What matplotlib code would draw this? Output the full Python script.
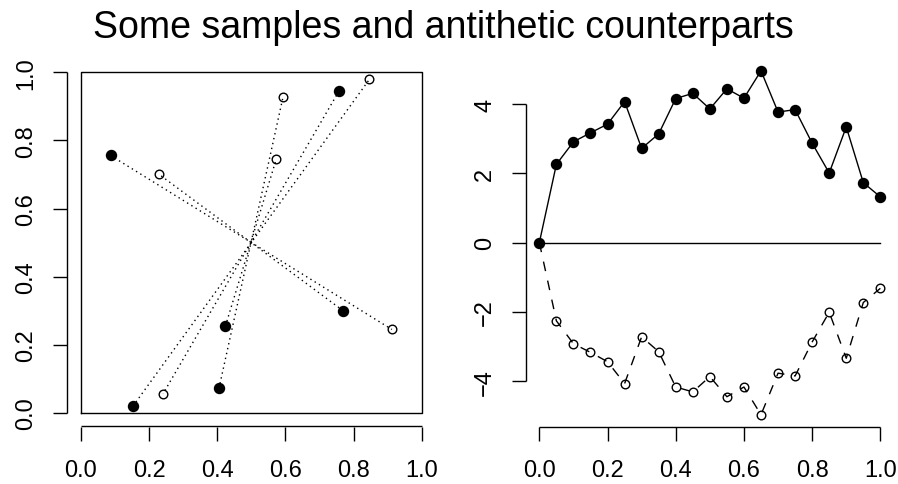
import matplotlib
matplotlib.use("Agg")
import matplotlib.pyplot as plt

plt.rcParams['font.family'] = ['Liberation Sans', 'DejaVu Sans']

# Left panel: samples (filled) and antithetic counterparts (open)
u_x = [0.087, 0.153, 0.405, 0.424, 0.769, 0.757]
u_y = [0.756, 0.020, 0.072, 0.255, 0.300, 0.945]
a_x = [0.912, 0.846, 0.593, 0.573, 0.230, 0.241]
a_y = [0.245, 0.979, 0.928, 0.745, 0.700, 0.056]

# Right panel: random walk and its antithetic counterpart
t = [0.00, 0.05, 0.10, 0.15, 0.20, 0.25, 0.30, 0.35, 0.40, 0.45, 0.50,
     0.55, 0.60, 0.65, 0.70, 0.75, 0.80, 0.85, 0.90, 0.95, 1.00]
walk = [0.00, 2.26, 2.91, 3.17, 3.42, 4.07, 2.72, 3.14, 4.16, 4.31, 3.86,
        4.44, 4.17, 4.96, 3.77, 3.84, 2.87, 2.01, 3.34, 1.73, 1.32]
anti = [0.00, -2.26, -2.92, -3.17, -3.44, -4.07, -2.72, -3.15, -4.17, -4.31, -3.87,
        -4.45, -4.17, -4.97, -3.77, -3.85, -2.87, -2.01, -3.34, -1.73, -1.32]

xticks = [0.0, 0.2, 0.4, 0.6, 0.8, 1.0]
xticklabels = ["0.0", "0.2", "0.4", "0.6", "0.8", "1.0"]
yticks_r = [-4, -2, 0, 2, 4]
yticklabels_r = ["\u22124", "\u22122", "0", "2", "4"]

W, H = 898, 485
fig = plt.figure(figsize=(W / 100, H / 100), dpi=100)

def px_axes(x0, x1, ytop, ybot):
    return fig.add_axes([x0 / W, 1 - ybot / H, (x1 - x0) / W, (ybot - ytop) / H])

axL = px_axes(67.2, 435.5, 59.7, 427.5)
axR = px_axes(525.7, 894.0, 59.7, 427.5)

TICKLEN = 10.3
FS = 17
lw = 1.0

def style_axes(ax, xt, xtl, yt, ytl, xlim, ylim):
    ax.set_xlim(*xlim)
    ax.set_ylim(*ylim)
    for s in ax.spines.values():
        s.set_visible(False)
    ax.set_xticks(xt)
    ax.set_xticklabels(xtl)
    ax.set_yticks(yt)
    ax.set_yticklabels(ytl, rotation=90, va='center')
    ax.tick_params(axis='x', length=TICKLEN, width=lw, pad=13, labelsize=FS, direction='out')
    ax.tick_params(axis='y', length=TICKLEN, width=lw, pad=11, labelsize=FS, direction='out')
    # axis lines from first to last tick (R style)
    ax.plot([xt[0], xt[-1]], [ylim[0], ylim[0]], color='black', lw=lw,
            clip_on=False, solid_capstyle='butt')
    ax.plot([xlim[0], xlim[0]], [yt[0], yt[-1]], color='black', lw=lw,
            clip_on=False, solid_capstyle='butt')

# Left panel
style_axes(axL, xticks, xticklabels, xticks, xticklabels, (-0.04, 1.04), (-0.04, 1.04))
axL.plot([0, 1, 1, 0, 0], [0, 0, 1, 1, 0], color='black', lw=lw)
for x1, y1, x2, y2 in zip(u_x, u_y, a_x, a_y):
    axL.plot([x1, x2], [y1, y2], color='black', lw=lw, dashes=(1, 2.6))
axL.plot(u_x, u_y, 'o', color='black', ms=7.2, mew=1.0, ls='none')
axL.plot(a_x, a_y, 'o', mfc='none', mec='black', ms=6.2, mew=1.0, ls='none')

# Right panel
style_axes(axR, xticks, xticklabels, yticks_r, yticklabels_r, (-0.04, 1.04), (-5.31, 5.31))
axR.plot([0, 1], [0, 0], color='black', lw=lw)
axR.plot(t, anti, color='black', lw=lw, dashes=(7, 7))
axR.plot(t[1:], anti[1:], 'o', mfc='none', mec='black', ms=6.2, mew=1.0, ls='none')
axR.plot(t, walk, color='black', lw=lw)
axR.plot(t, walk, 'o', color='black', ms=7.2, mew=1.0, ls='none')

fig.text(443 / W, 1 - 38.5 / H, "Some samples and antithetic counterparts",
         ha='center', va='baseline', fontsize=27)

fig.savefig("out.png", dpi=100)
